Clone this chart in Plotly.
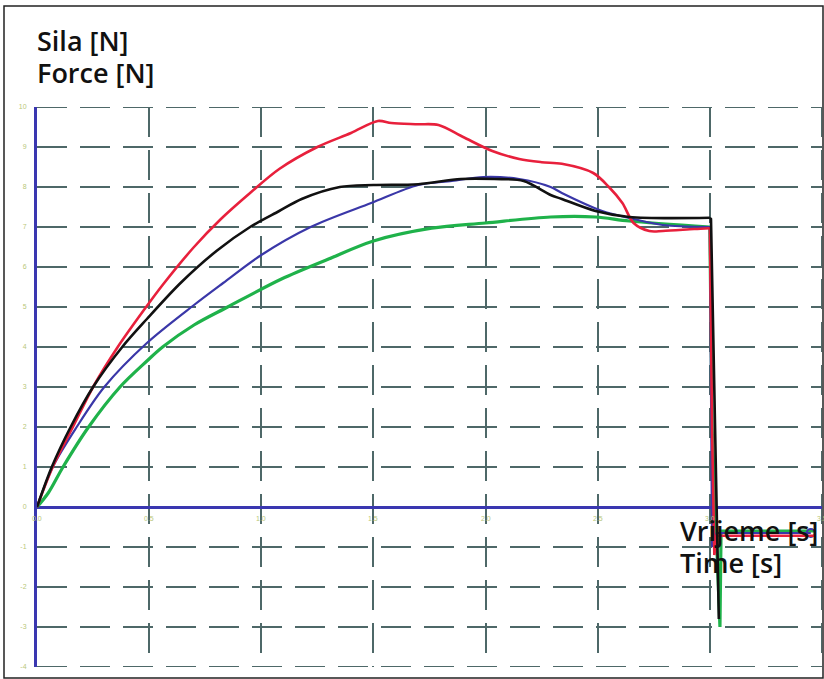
import plotly.graph_objects as go

# ---- data (time in s, force in N) ----
red_t = [0, 0.07, 0.16, 0.25, 0.36, 0.48, 0.56, 0.70, 0.82, 0.95, 1.08, 1.25, 1.40, 1.52, 1.58, 1.70,
         1.79, 1.90, 2.03, 2.15, 2.25, 2.34, 2.48, 2.55, 2.61, 2.66, 2.73, 2.79, 2.93, 3.00,
         3.01, 3.02, 3.03, 3.47]
red_f = [0, 1.0, 2.0, 3.0, 4.0, 4.95, 5.55, 6.5, 7.2, 7.85, 8.45, 9.0, 9.35, 9.65, 9.6, 9.57,
         9.55, 9.25, 8.9, 8.7, 8.62, 8.58, 8.35, 8.0, 7.6, 7.1, 6.9, 6.9, 6.95, 6.97,
         1.9, -1.2, -0.72, -0.72]

black_t = [0, 0.066, 0.15, 0.25, 0.38, 0.49, 0.64, 0.80, 0.95, 1.08, 1.18, 1.35, 1.50, 1.70, 1.89,
           2.04, 2.17, 2.29, 2.34, 2.49, 2.64, 3.00, 3.005, 3.04]
black_f = [0, 1.0, 2.0, 3.0, 4.0, 4.7, 5.6, 6.4, 7.0, 7.4, 7.7, 8.0, 8.05, 8.07, 8.2,
           8.2, 8.15, 7.8, 7.7, 7.4, 7.25, 7.23, 7.2, -2.8]

blue_t = [0, 0.07, 0.177, 0.30, 0.49, 0.70, 0.83, 1.00, 1.22, 1.49, 1.70, 1.85, 1.99, 2.15, 2.29,
          2.34, 2.52, 2.66, 2.79, 3.00, 3.01, 3.03, 3.45]
blue_f = [0, 1.0, 2.0, 3.0, 4.1, 5.05, 5.6, 6.3, 7.0, 7.6, 8.05, 8.15, 8.25, 8.2, 8.0,
          7.85, 7.4, 7.2, 7.05, 7.0, -1.0, -0.65, -0.65]

green_t = [0, 0.05, 0.116, 0.23, 0.37, 0.49, 0.56, 0.70, 0.85, 1.09, 1.30, 1.50, 1.76, 2.00, 2.29,
           2.49, 2.64, 3.00, 3.01, 3.045, 3.05, 3.47]
green_f = [0, 0.35, 1.0, 2.0, 3.0, 3.65, 4.0, 4.55, 5.0, 5.7, 6.2, 6.65, 6.97, 7.1, 7.25,
           7.25, 7.15, 7.0, 2.0, -3.0, -0.6, -0.6]

x_ticks = [0.0, 0.5, 1.0, 1.5, 2.0, 2.5, 3.0, 3.5]
x_tick_labels = ["0.0", "0.5", "1.0", "1.5", "2.0", "2.5", "3.0", "3.5"]
y_ticks = list(range(-4, 11))
y_tick_labels = [str(v) for v in y_ticks]

X_RANGE = [0, 3.5]
Y_RANGE = [-4, 10]
DROP_T = 3.0  # end of the smooth part of every record
GRID_COL = "#4e6868"
GRID_DASH = "30px,13px"


def add_curve(fig, t, f, color, width):
    # smooth rising part drawn as a spline, the release drop as straight segments
    k = max(i for i, v in enumerate(t) if v <= DROP_T)
    fig.add_trace(go.Scatter(x=t[:k + 1], y=f[:k + 1], mode="lines",
                             line=dict(color=color, width=width, shape="spline", smoothing=0.9)))
    fig.add_trace(go.Scatter(x=t[k:], y=f[k:], mode="lines",
                             line=dict(color=color, width=width)))


fig = go.Figure()
add_curve(fig, green_t, green_f, "#1fb24a", 3.2)
add_curve(fig, blue_t, blue_f, "#3a37a8", 2.2)
fig.add_trace(go.Scatter(x=[blue_t[-1]], y=[blue_f[-1]], mode="markers",
                         marker=dict(color="#3a37a8", size=8, symbol="circle-open", line=dict(width=2))))
add_curve(fig, red_t, red_f, "#e8203c", 2.6)
add_curve(fig, black_t, black_f, "#111111", 2.6)

fig.update_layout(
    width=824, height=679,
    margin=dict(l=37, r=2, t=107, b=12, autoexpand=False),
    paper_bgcolor="white", plot_bgcolor="white",
    showlegend=False,
    xaxis=dict(range=X_RANGE, tickvals=x_ticks, showticklabels=False, showgrid=True,
               gridcolor=GRID_COL, gridwidth=2, griddash=GRID_DASH, zeroline=False,
               showline=False, ticks=""),
    yaxis=dict(range=Y_RANGE, tickvals=y_ticks, ticktext=y_tick_labels, showgrid=True,
               gridcolor=GRID_COL, gridwidth=2, griddash=GRID_DASH,
               zeroline=True, zerolinecolor="#3a37b0", zerolinewidth=2.5,
               showline=True, linecolor="#3a37b0", linewidth=3, ticks="",
               tickfont=dict(size=7, color="#b9c77a", family="Liberation Sans"), ticklabelstandoff=6),
)

# grid lines that fall on the plot edges (plotly leaves them out)
fig.add_shape(type="line", xref="x", yref="y", x0=X_RANGE[0], x1=X_RANGE[1], y0=Y_RANGE[1], y1=Y_RANGE[1],
              line=dict(color=GRID_COL, width=2, dash=GRID_DASH), layer="below")
fig.add_shape(type="line", xref="x", yref="y", x0=X_RANGE[0], x1=X_RANGE[1], y0=Y_RANGE[0], y1=Y_RANGE[0],
              line=dict(color=GRID_COL, width=2, dash=GRID_DASH), layer="below")
fig.add_shape(type="line", xref="x", yref="y", x0=X_RANGE[1], x1=X_RANGE[1], y0=Y_RANGE[1], y1=Y_RANGE[0],
              line=dict(color=GRID_COL, width=2, dash=GRID_DASH), layer="below")

for xv, lab in zip(x_ticks, x_tick_labels):
    fig.add_annotation(x=xv, y=0, xref="x", yref="y", text=lab, showarrow=False, yshift=-11,
                       font=dict(size=7, color="#b9c77a", family="Liberation Sans"))

title_font = dict(family="Open Sans", size=27, color="#111111", weight=600)
fig.add_annotation(x=-0.003, y=1.118, xref="paper", yref="paper", text="Sila [N]", showarrow=False,
                   xanchor="left", yanchor="middle", font=title_font)
fig.add_annotation(x=-0.003, y=1.0625, xref="paper", yref="paper", text="Force [N]", showarrow=False,
                   xanchor="left", yanchor="middle", font=title_font)
fig.add_annotation(x=0.816, y=0.243, xref="paper", yref="paper", text="Vrijeme [s]", showarrow=False,
                   xanchor="left", yanchor="middle", font=title_font)
fig.add_annotation(x=0.816, y=0.1875, xref="paper", yref="paper", text="Time [s]", showarrow=False,
                   xanchor="left", yanchor="middle", font=title_font)

# outer frame of the figure
fig.add_shape(type="rect", xref="paper", yref="paper",
              x0=(4 - 37) / 785, x1=(823 - 37) / 785, y0=(667 - 678) / 560, y1=(667 - 6) / 560,
              line=dict(color="#222222", width=1.5), layer="below")

fig.write_html("out.html", config={"displayModeBar": False},
               post_script="document.body.style.margin='0px';")
